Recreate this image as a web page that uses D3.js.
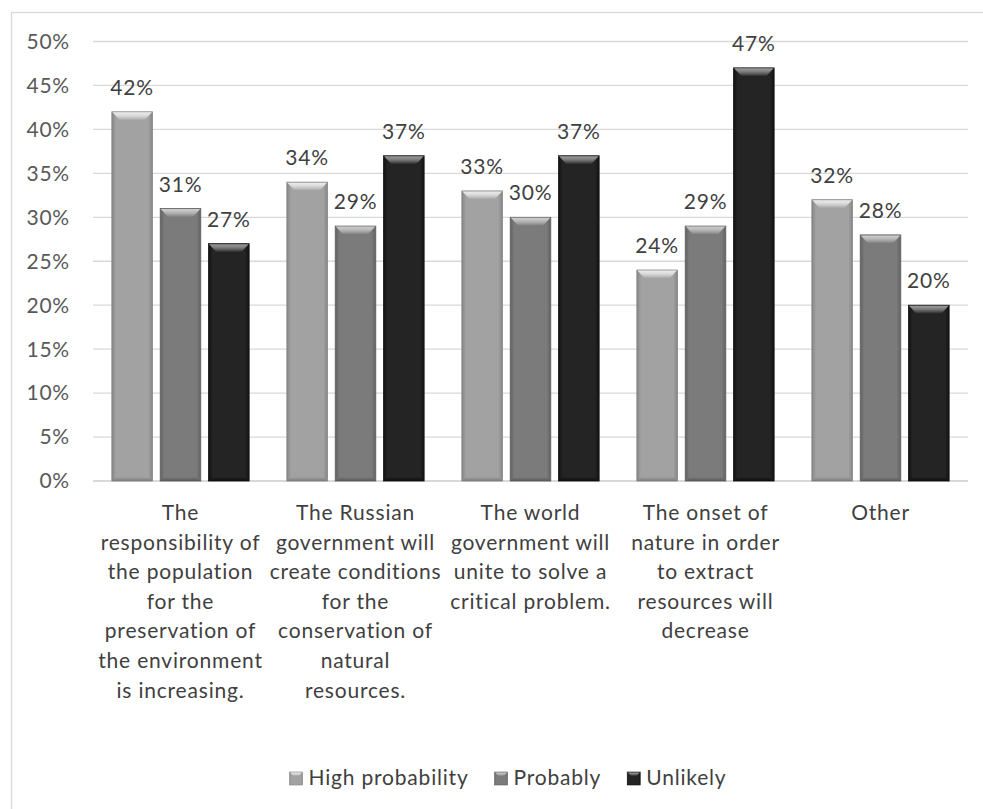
<!DOCTYPE html>
<html>
<head>
<meta charset="utf-8">
<script src="https://cdn.jsdelivr.net/npm/d3@7"></script>
<style>
  html, body { margin: 0; padding: 0; background: #fff; }
  svg { display: block; font-family: Lato, "Open Sans", sans-serif; }
  svg text { letter-spacing: 0.8px; }
</style>
</head>
<body>
<svg id="chart" width="983" height="809"></svg>
<script>
// Survey results: expectations about natural resource conservation
const categories = [
  ["The", "responsibility of", "the population", "for the", "preservation of", "the environment", "is increasing."],
  ["The Russian", "government will", "create conditions", "for the", "conservation of", "natural", "resources."],
  ["The world", "government will", "unite to solve a", "critical problem."],
  ["The onset of", "nature in order", "to extract", "resources will", "decrease"],
  ["Other"]
];
const seriesNames = ["High probability", "Probably", "Unlikely"];
const highProbability = [42, 34, 33, 24, 32];
const probably        = [31, 29, 30, 29, 28];
const unlikely        = [27, 37, 37, 47, 20];
const yTicks = [0, 5, 10, 15, 20, 25, 30, 35, 40, 45, 50];

const seriesValues = [highProbability, probably, unlikely];
const palette = {
  "High probability": { base: "#a2a2a2", edge: "#858585", light: "#ececec", dark: "#7a7a7a" },
  "Probably":         { base: "#7b7b7b", edge: "#606060", light: "#cdcdcd", dark: "#585858" },
  "Unlikely":         { base: "#242424", edge: "#111111", light: "#9a9a9a", dark: "#0c0c0c" }
};

const FONT = 21;
const svg = d3.select("#chart");
const defs = svg.append("defs");
const plot = { left: 93, right: 968, top: 41.5, bottom: 481 };

// Outer chart border
svg.append("rect")
  .attr("x", 11.5).attr("y", 12.5)
  .attr("width", 1000).attr("height", 820)
  .attr("fill", "none").attr("stroke", "#d9d9d9").attr("stroke-width", 1.3);

const catKeys = categories.map((c, i) => "c" + i);
const x0 = d3.scaleBand().domain(catKeys).range([plot.left, plot.right]).paddingInner(0).paddingOuter(0);
const x1 = d3.scaleBand().domain(seriesNames).range([0, x0.bandwidth()]).paddingInner(0.16).paddingOuter(0.39);
const y = d3.scaleLinear().domain([0, 50]).range([plot.bottom, plot.top]);

// Gradients per series (horizontal shading, top bevel, bottom bevel)
seriesNames.forEach((s, i) => {
  const p = palette[s];
  const g = defs.append("linearGradient").attr("id", "body" + i).attr("x1", "0").attr("x2", "1").attr("y1", "0").attr("y2", "0");
  g.append("stop").attr("offset", "0").attr("stop-color", p.edge);
  g.append("stop").attr("offset", "0.1").attr("stop-color", p.base);
  g.append("stop").attr("offset", "0.9").attr("stop-color", p.base);
  g.append("stop").attr("offset", "1").attr("stop-color", p.edge);
  const b = defs.append("linearGradient").attr("id", "bevel" + i).attr("x1", "0").attr("x2", "0").attr("y1", "0").attr("y2", "1");
  b.append("stop").attr("offset", "0").attr("stop-color", p.light);
  b.append("stop").attr("offset", "0.35").attr("stop-color", p.light).attr("stop-opacity", 0.8);
  b.append("stop").attr("offset", "1").attr("stop-color", p.base);
  const bb = defs.append("linearGradient").attr("id", "bottom" + i).attr("x1", "0").attr("x2", "0").attr("y1", "0").attr("y2", "1");
  bb.append("stop").attr("offset", "0").attr("stop-color", p.base);
  bb.append("stop").attr("offset", "1").attr("stop-color", p.dark);
});

// Gridlines
svg.append("g").selectAll("line").data(yTicks).join("line")
  .attr("x1", plot.left).attr("x2", plot.right)
  .attr("y1", d => y(d)).attr("y2", d => y(d))
  .attr("stroke", "#d9d9d9").attr("stroke-width", d => d === 0 ? 2 : 1.3);

// Y tick labels
svg.append("g").selectAll("text").data(yTicks).join("text")
  .attr("x", 70).attr("y", d => y(d)).attr("dy", "0.35em")
  .attr("text-anchor", "end").attr("font-size", FONT).attr("fill", "#595959")
  .text(d => d + "%");

// Bars
const bars = [];
catKeys.forEach((k, ci) => {
  seriesNames.forEach((s, si) => {
    bars.push({ cat: k, ci, series: s, si, value: seriesValues[si][ci] });
  });
});

const barG = svg.append("g").selectAll("g").data(bars).join("g")
  .attr("transform", d => `translate(${x0(d.cat) + x1(d.series)},0)`);
const bw = x1.bandwidth();
const bev = 8;

barG.append("rect")
  .attr("x", 0).attr("y", d => y(d.value))
  .attr("width", bw).attr("height", d => y(0) - y(d.value))
  .attr("fill", d => `url(#body${d.si})`)
  .attr("stroke", d => palette[d.series].edge).attr("stroke-width", 0.8);

barG.append("path")
  .attr("d", d => {
    const t = y(d.value) + 0.5;
    return `M0.5,${t} L${bw - 0.5},${t} L${bw - bev},${t + bev} L${bev},${t + bev} Z`;
  })
  .attr("fill", d => `url(#bevel${d.si})`);

barG.append("path")
  .attr("d", d => {
    const b = y(0);
    return `M0,${b} L${bw},${b} L${bw - 4},${b - 4} L4,${b - 4} Z`;
  })
  .attr("fill", d => `url(#bottom${d.si})`);

// Value labels
barG.append("text")
  .attr("x", bw / 2).attr("y", d => y(d.value) - 17)
  .attr("text-anchor", "middle").attr("font-size", FONT).attr("fill", "#404040")
  .text(d => d.value + "%");

// Category labels
const catG = svg.append("g").selectAll("text").data(categories).join("text")
  .attr("text-anchor", "middle").attr("font-size", FONT).attr("fill", "#404040")
  .attr("transform", (d, i) => `translate(${x0(catKeys[i]) + x0.bandwidth() / 2},520)`);
catG.selectAll("tspan").data(d => d).join("tspan")
  .attr("x", 0).attr("y", (d, i) => i * 29.6)
  .text(d => d);

// Legend
const legend = svg.append("g");
const items = legend.selectAll("g").data(seriesNames).join("g");
items.append("rect")
  .attr("width", 13).attr("height", 13).attr("y", -13)
  .attr("fill", (d, i) => `url(#body${i})`)
  .attr("stroke", d => palette[d].edge).attr("stroke-width", 0.6);
items.append("path")
  .attr("d", "M0.5,-12.5 L12.5,-12.5 L9,-9 L4,-9 Z")
  .attr("fill", (d, i) => `url(#bevel${i})`);
items.append("text")
  .attr("x", 19).attr("font-size", FONT).attr("fill", "#404040")
  .text(d => d);
const widths = [];
items.each(function () {
  widths.push(19 + d3.select(this).select("text").node().getComputedTextLength());
});
const gap = 26;
const total = d3.sum(widths) + gap * (widths.length - 1);
let startX = 508 - total / 2;
items.attr("transform", (d, i) => {
  const tx = startX;
  startX += widths[i] + gap;
  return `translate(${tx},785)`;
});
</script>
</body>
</html>
